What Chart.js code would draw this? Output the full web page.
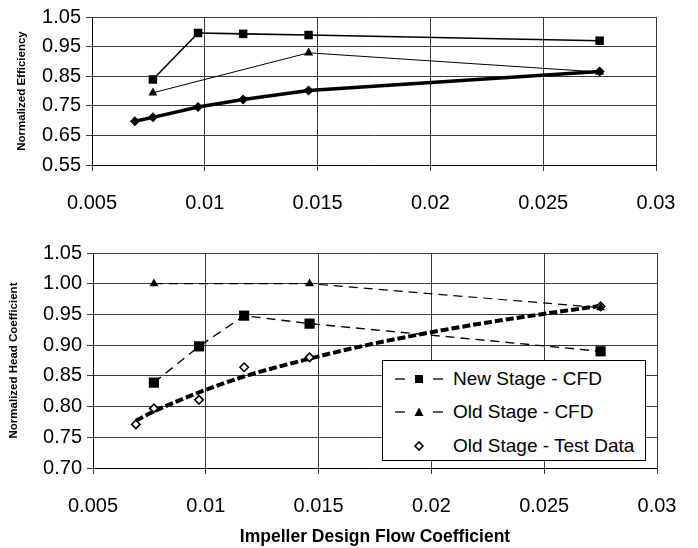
<!DOCTYPE html>
<html>
<head>
<meta charset="utf-8">
<script src="https://cdn.jsdelivr.net/npm/chart.js@4.4.1/dist/chart.umd.min.js"></script>
<style>
    body { margin: 0; background: #fff; }
    #wrap { position: relative; width: 698px; height: 548px; font-family: "Liberation Sans", Arial, sans-serif; }
    canvas { position: absolute; left: 0; }
    #effChart { top: 0; }
    #headChart { top: 230px; }
    #legend {
        position: absolute; left: 382px; top: 360px; width: 264px; height: 101px;
        background: #fff; border: 1px solid #000; box-sizing: border-box;
        padding-top: 1px;
    }
    .item { display: flex; align-items: center; height: 33.5px; font-size: 19px; color: #000; }
    .item svg { margin-left: 12px; margin-right: 10px; }
</style>
</head>
<body>
<div id="wrap">
    <canvas id="effChart" width="698" height="230"></canvas>
    <canvas id="headChart" width="698" height="318"></canvas>
    <div id="legend"></div>
</div>
<script>
// DATA
const flowNewCFD = [0.0077, 0.0097, 0.0117, 0.0146, 0.0275];
const flowOldCFD = [0.0077, 0.0146, 0.0275];
const flowOldTest = [0.0069, 0.0077, 0.0097, 0.0117, 0.0146, 0.0275];

const effNewCFD = [0.839, 0.996, 0.993, 0.989, 0.970];
const effOldCFD = [0.794, 0.929, 0.864];
const effOldTest = [0.698, 0.711, 0.746, 0.771, 0.802, 0.866];

const headNewCFD = [0.839, 0.898, 0.948, 0.935, 0.890];
const headOldCFD = [1.000, 1.000, 0.961];
const headOldTest = [0.771, 0.797, 0.811, 0.864, 0.880, 0.963];

// trend curve through the test data (bottom chart)
const trendFlow = [0.0069, 0.0077, 0.0097, 0.0117, 0.0146, 0.017, 0.020, 0.0225, 0.025, 0.0275];
const trendHead = [0.777, 0.792, 0.823, 0.849, 0.878, 0.899, 0.921, 0.937, 0.951, 0.964];

const effTicks = [0.55, 0.65, 0.75, 0.85, 0.95, 1.05];
const headTicks = [0.70, 0.75, 0.80, 0.85, 0.90, 0.95, 1.00, 1.05];
const flowTicks = [0.005, 0.01, 0.015, 0.02, 0.025, 0.03];

const labels = ["New Stage - CFD", "Old Stage - CFD", "Old Stage - Test Data"];

const FONT = "'Liberation Sans', Arial, sans-serif";
const GRID = "#3a3a3a";

function pts(xs, ys) {
    return xs.map((x, i) => ({ x: x, y: ys[i] }));
}

function xScale(withTitle) {
    return {
        type: "linear",
        min: flowTicks[0],
        max: flowTicks[flowTicks.length - 1],
        afterBuildTicks: s => { s.ticks = flowTicks.map(v => ({ value: v })); },
        afterFit: s => { s.height = withTitle ? 80 : 65; },
        grid: { color: GRID, lineWidth: 1, tickLength: 6, tickColor: GRID },
        border: { color: "#000", width: 1 },
        ticks: {
            color: "#000", padding: 20,
            font: { family: FONT, size: 20 },
            callback: v => String(parseFloat(v.toFixed(3)))
        },
        title: {
            display: withTitle, text: "Impeller Design Flow Coefficient", color: "#000",
            font: { family: FONT, size: 17.5, weight: "bold" },
            padding: { top: 0, bottom: 0 }
        }
    };
}

function yScale(tickList, title, titlePad, leftWidth) {
    return {
        type: "linear",
        min: tickList[0],
        max: tickList[tickList.length - 1],
        afterBuildTicks: s => { s.ticks = tickList.map(v => ({ value: v })); },
        afterFit: s => { s.width = leftWidth; },
        grid: { color: GRID, lineWidth: 1, tickLength: 6, tickColor: GRID },
        border: { color: "#000", width: 1 },
        ticks: {
            color: "#000", padding: 5,
            font: { family: FONT, size: 20 },
            callback: v => v.toFixed(2)
        },
        title: {
            display: true, text: title, color: "#000",
            font: { family: FONT, size: 11.5, weight: "bold" },
            padding: { top: titlePad, bottom: 0 }
        }
    };
}

// TOP: efficiency
new Chart(document.getElementById("effChart"), {
    type: "line",
    data: {
        datasets: [
            {
                label: labels[0], data: pts(flowNewCFD, effNewCFD),
                borderColor: "#000", backgroundColor: "#000", borderWidth: 1.6,
                pointStyle: "rect", pointRadius: 6, pointBorderWidth: 0
            },
            {
                label: labels[1], data: pts(flowOldCFD, effOldCFD),
                borderColor: "#000", backgroundColor: "#000", borderWidth: 1,
                pointStyle: "triangle", pointRadius: 5.2, pointBorderWidth: 0
            },
            {
                label: labels[2], data: pts(flowOldTest, effOldTest),
                borderColor: "#000", backgroundColor: "#000", borderWidth: 3.5,
                pointStyle: "rectRot", pointRadius: 5, pointBorderWidth: 0
            }
        ]
    },
    options: {
        responsive: false,
        animation: false,
        layout: { padding: { top: 17, right: 42, bottom: 0, left: 0 } },
        plugins: { legend: { display: false }, tooltip: { enabled: false } },
        scales: {
            x: xScale(false),
            y: yScale(effTicks, "Normalized Efficiency", 15, 92)
        }
    }
});

// BOTTOM: head coefficient
const headChart = new Chart(document.getElementById("headChart"), {
    type: "line",
    data: {
        datasets: [
            {
                label: labels[0], data: pts(flowNewCFD, headNewCFD),
                borderColor: "#000", backgroundColor: "#000", borderWidth: 1.4,
                borderDash: [9, 6],
                pointStyle: "rect", pointRadius: 7.2, pointBorderWidth: 0
            },
            {
                label: labels[1], data: pts(flowOldCFD, headOldCFD),
                borderColor: "#000", backgroundColor: "#000", borderWidth: 1.2,
                borderDash: [9, 6],
                pointStyle: "triangle", pointRadius: 5.2, pointBorderWidth: 0
            },
            {
                label: labels[2], data: pts(flowOldTest, headOldTest),
                showLine: false,
                borderColor: "#000", backgroundColor: "#fff",
                pointStyle: "rectRot", pointRadius: 4.2, pointBorderWidth: 1.6
            },
            {
                label: "trend", data: pts(trendFlow, trendHead),
                borderColor: "#000", borderWidth: 4, borderDash: [8, 3],
                cubicInterpolationMode: "monotone",
                pointRadius: 0
            }
        ]
    },
    options: {
        responsive: false,
        animation: false,
        layout: { padding: { top: 23, right: 41, bottom: 0, left: 0 } },
        plugins: { legend: { display: false }, tooltip: { enabled: false } },
        scales: {
            x: xScale(true),
            y: yScale(headTicks, "Normalized Head Coefficient", 7, 93)
        }
    }
});

// HTML LEGEND (inside the plot area)
function sampleSvg(ds) {
    let s = '<svg width="48" height="14" viewBox="0 0 48 14">';
    if (ds.showLine !== false) {
        s += '<line x1="0" y1="7" x2="10" y2="7" stroke="#000" stroke-width="1.3"/>';
        s += '<line x1="38" y1="7" x2="48" y2="7" stroke="#000" stroke-width="1.3"/>';
    }
    if (ds.pointStyle === "rect") {
        s += '<rect x="20" y="3" width="8" height="8" fill="#000"/>';
    } else if (ds.pointStyle === "triangle") {
        s += '<polygon points="24,2.5 28.5,11 19.5,11" fill="#000"/>';
    } else {
        s += '<polygon points="24,3 28,7 24,11 20,7" fill="#fff" stroke="#000" stroke-width="1.6"/>';
    }
    return s + '</svg>';
}

const legendBox = document.getElementById("legend");
headChart.data.datasets.forEach(ds => {
    if (!labels.includes(ds.label)) return;
    const row = document.createElement("div");
    row.className = "item";
    row.innerHTML = sampleSvg(ds) + "<span>" + ds.label + "</span>";
    legendBox.appendChild(row);
});
</script>
</body>
</html>
